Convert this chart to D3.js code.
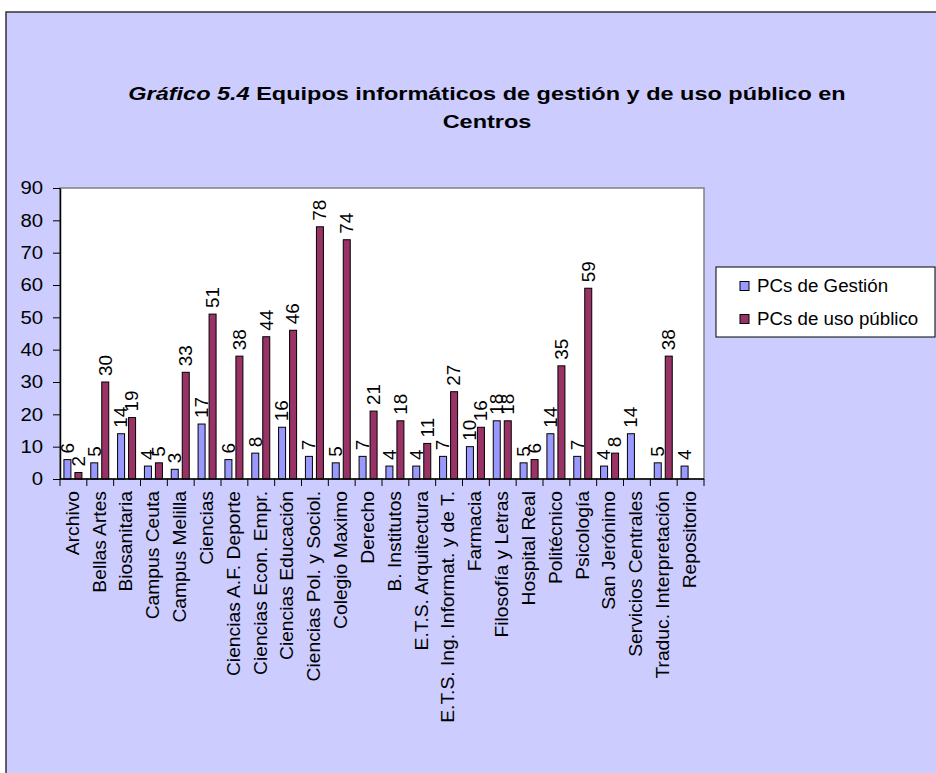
<!DOCTYPE html>
<html><head><meta charset="utf-8">
<script src="https://cdn.jsdelivr.net/npm/d3@7"></script>
<style>body{margin:0;background:#fff}svg{display:block;font-family:"Liberation Sans",Arial,sans-serif}</style>
</head><body><svg id="c" width="936" height="773"></svg>
<script>
const categories = ["Archivo","Bellas Artes","Biosanitaria","Campus Ceuta","Campus Melilla","Ciencias","Ciencias A.F. Deporte","Ciencias Econ. Empr.","Ciencias Educación","Ciencias Pol. y Sociol.","Colegio Maximo","Derecho","B. Institutos","E.T.S. Arquitectura","E.T.S. Ing. Informat. y de T.","Farmacia","Filosofía y Letras","Hospital Real","Politécnico","Psicología","San Jerónimo","Servicios Centrales","Traduc. Interpretación","Repositorio"];
const gestion = [6,5,14,4,3,17,6,8,16,7,5,7,4,4,7,10,18,5,14,7,4,14,5,4];
const publico = [2,30,19,5,33,51,38,44,46,78,74,21,18,11,27,16,18,6,35,59,8,null,38,null];
const seriesNames = ["PCs de Gestión","PCs de uso público"];
const seriesColors = ["#9999FF","#993366"];
const yTicks = [0,10,20,30,40,50,60,70,80,90];
const titleItalic = "Gráfico 5.4";
const titleLine1 = " Equipos informáticos de gestión y de uso público en";
const titleLine2 = "Centros";

const svg = d3.select("#c");
const FS = 18;
svg.append("rect").attr("x",6).attr("y",12).attr("width",950).attr("height",780)
  .attr("fill","#CCCCFF").attr("stroke","#333").attr("stroke-width",1.5);

// title
const t1 = svg.append("text").attr("transform","translate(487,100) scale(1.27,1)").attr("text-anchor","middle")
  .attr("font-size",18.5).attr("font-weight","bold").attr("fill","#000");
t1.append("tspan").attr("font-style","italic").text(titleItalic);
t1.append("tspan").text(titleLine1);
svg.append("text").attr("transform","translate(487,128) scale(1.27,1)").attr("text-anchor","middle")
  .attr("font-size",18.5).attr("font-weight","bold").text(titleLine2);

const L=60,R=704,T=188,B=479;
const x = d3.scaleBand().domain(categories).range([L,R]).padding(0);
const y = d3.scaleLinear().domain([0,90]).range([B,T]);
const bw = x.bandwidth();
const x1 = d3.scaleBand().domain([0,1]).range([bw/2-9.5, bw/2+8.5]).paddingInner(4/11).paddingOuter(0);

svg.append("rect").attr("x",L).attr("y",T).attr("width",R-L).attr("height",B-T)
  .attr("fill","#fff").attr("stroke","#808080").attr("stroke-width",1.5);

const data = [gestion, publico];
data.forEach((vals, si) => {
  const g = svg.append("g");
  categories.forEach((c, i) => {
    const v = vals[i];
    if (v == null) return;
    const bx = x(c) + x1(si);
    g.append("rect").attr("x",bx).attr("y",y(v)).attr("width",x1.bandwidth()).attr("height",y(0)-y(v))
      .attr("fill",seriesColors[si]).attr("stroke","#000").attr("stroke-width",1);
    const cx = bx + x1.bandwidth()/2;
    g.append("text").attr("transform",`translate(${cx},${y(v)-6}) rotate(-90) scale(1.05,1)`)
      .attr("dy","0.35em").attr("font-size",FS).attr("fill","#000").text(v);
  });
});

// y axis
const ya = svg.append("g").attr("transform",`translate(${L},0)`)
  .call(d3.axisLeft(y).tickValues(yTicks).tickSize(7).tickPadding(0).tickSizeOuter(0));
ya.select(".domain").attr("stroke","#000").attr("stroke-width",1.5);
ya.selectAll("line").attr("stroke","#000");
ya.selectAll("text").attr("x",null).attr("transform","translate(-17,0) scale(1.13,1)")
  .attr("font-size",FS).attr("font-family","Liberation Sans, Arial").attr("fill","#000");

// x axis
const xa = svg.append("g").attr("transform",`translate(0,${B})`);
xa.append("line").attr("x1",L).attr("x2",R).attr("stroke","#000").attr("stroke-width",1.5);
const boundaries = categories.map(c=>x(c)).concat([R]);
xa.selectAll("line.t").data(boundaries).join("line").attr("class","t")
  .attr("x1",d=>d).attr("x2",d=>d).attr("y1",0).attr("y2",7).attr("stroke","#000");
xa.selectAll("text").data(categories).join("text")
  .attr("transform",d=>`translate(${x(d)+bw/2-1},12) rotate(-90) scale(1.07,1)`)
  .attr("dy","0.35em").attr("text-anchor","end").attr("font-size",FS).attr("fill","#000").text(d=>d);

// legend
svg.append("rect").attr("x",716).attr("y",267).attr("width",219).attr("height",70)
  .attr("fill","#fff").attr("stroke","#000").attr("stroke-width",1);
seriesNames.forEach((n,i)=>{
  const yy = 286 + i*33;
  svg.append("rect").attr("x",740).attr("y",yy-4.5).attr("width",9).attr("height",9)
    .attr("fill",seriesColors[i]).attr("stroke","#000").attr("stroke-width",1);
  svg.append("text").attr("transform",`translate(757,${yy+6}) scale(1.04,1)`).attr("font-size",FS).attr("fill","#000").text(n);
});
</script></body></html>
